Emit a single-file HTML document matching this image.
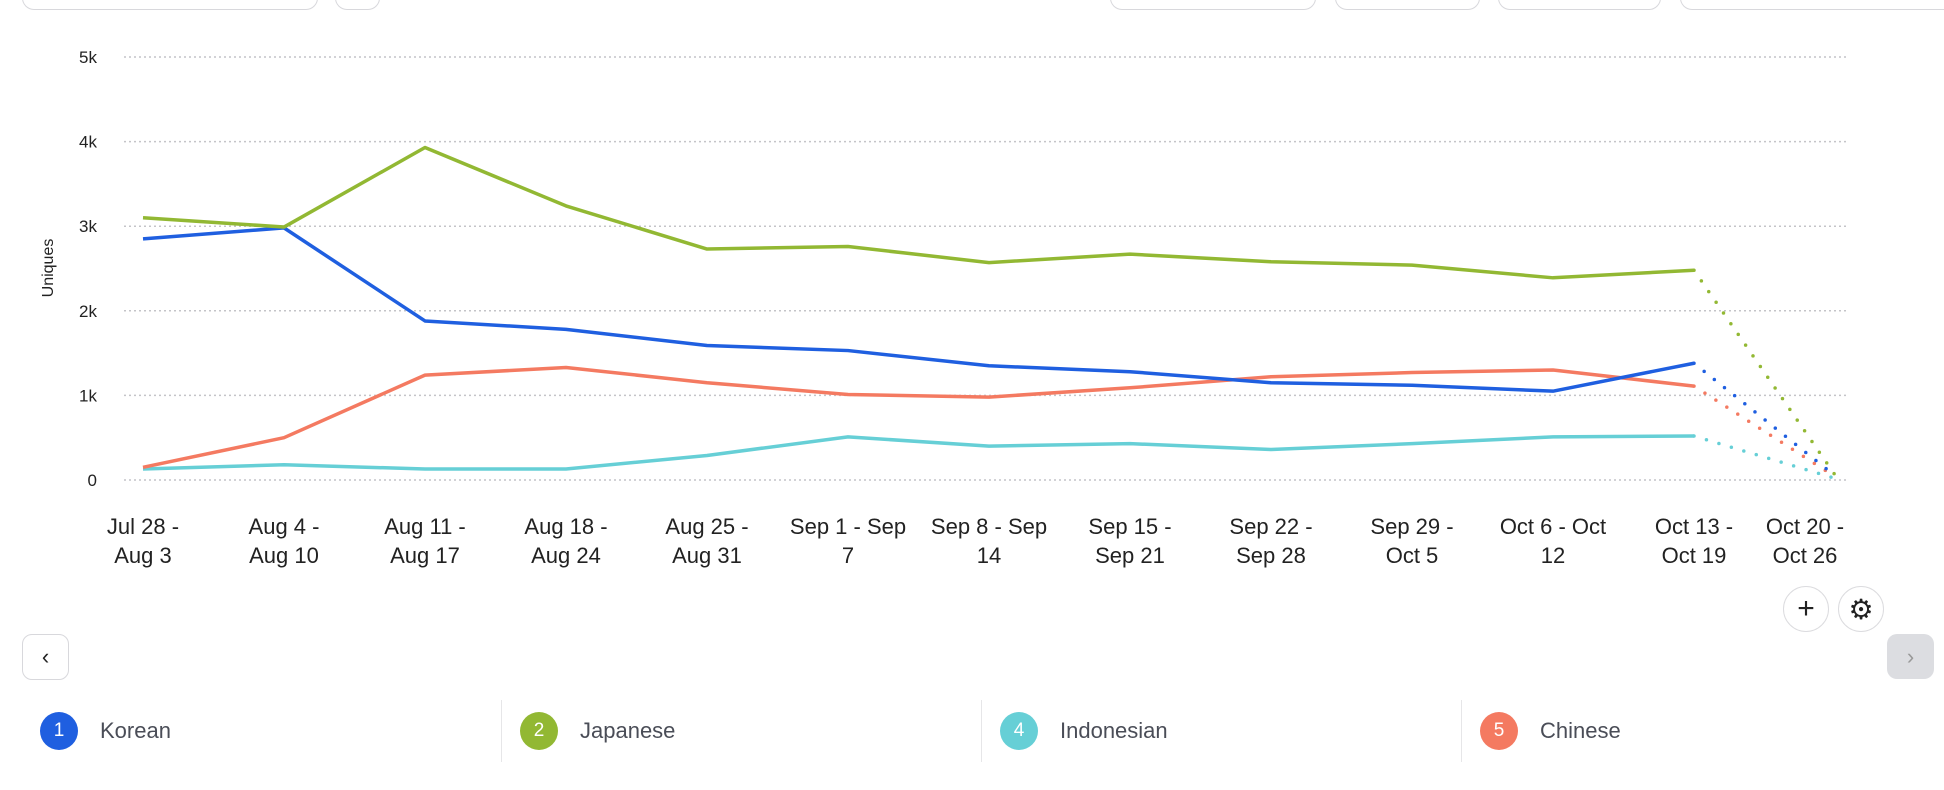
<!DOCTYPE html>
<html><head><meta charset="utf-8"><style>
body{margin:0;width:1944px;height:790px;background:#fff;font-family:"Liberation Sans",sans-serif;overflow:hidden;position:relative}
.box{position:absolute;border:1.5px solid #d8d8dc;border-top:none;border-radius:0 0 12px 12px;background:#fff}
.cbtn{position:absolute;border:1.5px solid #dcdcdf;border-radius:50%;background:#fff;display:flex;align-items:center;justify-content:center}
.leg{position:absolute;top:700px;height:62px;display:flex;align-items:center}
.dot{width:38px;height:38px;border-radius:50%;color:#fff;font-size:19px;display:flex;align-items:center;justify-content:center;margin-left:40px}
.lt{margin-left:22px;font-size:22px;color:#4a4d57}
.sep{position:absolute;top:700px;width:1px;height:62px;background:#e6e6e8}
</style></head><body>
<div class="box" style="left:22px;top:-5px;width:294px;height:14px"></div>
<div class="box" style="left:335px;top:-5px;width:43px;height:14px"></div>
<div class="box" style="left:1110px;top:-5px;width:204px;height:14px"></div>
<div class="box" style="left:1335px;top:-5px;width:143px;height:14px"></div>
<div class="box" style="left:1498px;top:-5px;width:161px;height:14px"></div>
<div class="box" style="left:1680px;top:-5px;width:280px;height:14px"></div>
<svg id="chart" width="1944" height="790" style="position:absolute;left:0;top:0"></svg>
<div class="cbtn" style="left:1783px;top:586px;width:44px;height:44px;font-size:30px;color:#222">+</div>
<div class="cbtn" style="left:1838px;top:586px;width:44px;height:44px;font-size:28px;color:#222">⚙</div>
<div style="position:absolute;left:22px;top:634px;width:45px;height:44px;border:1.5px solid #d8d8dc;border-radius:10px;display:flex;align-items:center;justify-content:center;font-size:22px;color:#222">‹</div>
<div style="position:absolute;left:1887px;top:634px;width:47px;height:45px;background:#dcdde1;border-radius:10px;display:flex;align-items:center;justify-content:center;font-size:22px;color:#999">›</div>
<div class="leg" style="left:0"><div class="dot" style="background:#1f5fe0">1</div><span class="lt">Korean</span></div>
<div class="sep" style="left:501px"></div>
<div class="leg" style="left:480px"><div class="dot" style="background:#92b833">2</div><span class="lt">Japanese</span></div>
<div class="sep" style="left:981px"></div>
<div class="leg" style="left:960px"><div class="dot" style="background:#66cfd6">4</div><span class="lt">Indonesian</span></div>
<div class="sep" style="left:1461px"></div>
<div class="leg" style="left:1440px"><div class="dot" style="background:#f47a61">5</div><span class="lt">Chinese</span></div>
<script>
const categories1=["Jul 28 -","Aug 4 -","Aug 11 -","Aug 18 -","Aug 25 -","Sep 1 - Sep","Sep 8 - Sep","Sep 15 -","Sep 22 -","Sep 29 -","Oct 6 - Oct","Oct 13 -","Oct 20 -"];
const categories2=["Aug 3","Aug 10","Aug 17","Aug 24","Aug 31","7","14","Sep 21","Sep 28","Oct 5","12","Oct 19","Oct 26"];
const korean=[2850,2980,1880,1780,1590,1530,1350,1280,1150,1120,1050,1380,50];
const japanese=[3100,2990,3930,3240,2730,2760,2570,2670,2580,2540,2390,2480,60];
const indonesian=[130,180,130,130,290,510,400,430,360,430,510,520,20];
const chinese=[150,500,1240,1330,1150,1010,980,1090,1220,1270,1300,1110,40];
const yTicks=[0,1000,2000,3000,4000,5000];
const yTickLabels=["0","1k","2k","3k","4k","5k"];
const svg=document.getElementById('chart');const NS="http://www.w3.org/2000/svg";
const x=i=>143+i*141.0;const y=v=>480-v/5000*423;
function mk(t,a,txt){const e=document.createElementNS(NS,t);for(const k in a)e.setAttribute(k,a[k]);if(txt!==undefined)e.textContent=txt;svg.appendChild(e);return e;}
yTicks.forEach((v,i)=>{
 const g=mk('line',{x1:124,x2:1847,y1:y(v),y2:y(v),stroke:'#c4c4c8','stroke-width':1.5,'stroke-dasharray':'2 3'});
 
 
 const t=mk('text',{x:97,y:y(v)+6,'text-anchor':'end','font-size':17,fill:'#222'},yTickLabels[i]);
 
 
});
const yt=mk('text',{x:0,y:0,transform:'translate(53,268) rotate(-90)','text-anchor':'middle','font-size':16,fill:'#222'},'Uniques');


categories1.forEach((c,i)=>{
 const cx=i===12?1805:x(i);
 const t1=mk('text',{x:cx,y:534,'text-anchor':'middle','font-size':22,fill:'#222'},c);
 
 
 const t2=mk('text',{x:cx,y:563,'text-anchor':'middle','font-size':22,fill:'#222'},categories2[i]);
 
 
});
const series=[[korean,'#1f5fe0','korean'],[japanese,'#92b833','japanese'],[indonesian,'#66cfd6','indonesian'],[chinese,'#f47a61','chinese']];
[2,3,0,1].forEach(k=>{const [d,c,n]=series[k];
 const pts=d.slice(0,12).map((v,i)=>x(i)+','+y(v)).join(' ');
 const l=mk('polyline',{points:pts,fill:'none',stroke:c,'stroke-width':3.5,'stroke-linejoin':'round'});
 
 
 const dl=mk('line',{x1:x(11),y1:y(d[11]),x2:x(12),y2:y(d[12]),stroke:c,'stroke-width':3.5,'stroke-dasharray':'0 13','stroke-linecap':'round'});
 
 
});
</script>
</body></html>
